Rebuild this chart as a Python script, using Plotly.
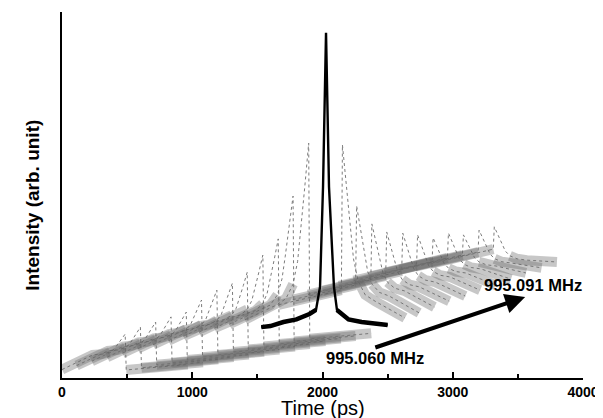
import plotly.graph_objects as go

# traces below resonance (slow rise, sharp fall), times in ps, levels in arb. units
left_peak_ps = [485, 602, 719, 837, 954, 1071, 1189, 1308, 1422, 1542, 1660, 1774, 1894]
left_start_ps = [0, 112, 229, 347, 464, 581, 699, 818, 932, 1052, 1170, 1284, 1404]
left_end_ps = [965, 1082, 1199, 1317, 1434, 1551, 1669, 1788, 1902, 2022, 2140, 2254, 2374]
left_start_lvl = [2.3, 3.4, 4.6, 5.7, 6.8, 8.0, 9.1, 10.2, 11.4, 12.5, 13.6, 14.7, 15.9]
left_base_lvl = [6.3, 7.4, 8.6, 9.7, 10.8, 12.0, 13.1, 14.2, 15.4, 16.5, 17.6, 18.7, 19.9]
left_top_lvl = [12.0, 13.9, 15.3, 16.7, 18.0, 21.3, 24.0, 25.9, 28.9, 33.6, 38.0, 49.7, 64.2]
left_post_lvl = [2.2, 2.8, 3.6, 4.2, 4.9, 5.7, 6.3, 7.1, 7.8, 8.6, 9.3, 10.0, 10.7]
left_end_lvl = [3.7, 4.3, 5.1, 5.7, 6.4, 7.2, 7.8, 8.6, 9.3, 10.1, 10.8, 11.5, 12.2]

# traces above resonance (sharp rise, slow decay)
right_peak_ps = [2153, 2262, 2379, 2493, 2616, 2730, 2849, 2967, 3082, 3202, 3319]
right_start_ps = [1663, 1772, 1889, 2003, 2126, 2240, 2359, 2477, 2592, 2712, 2829]
right_end_ps = [2633, 2742, 2859, 2973, 3096, 3210, 3329, 3447, 3562, 3682, 3800]
right_start_lvl = [20.0, 21.4, 22.8, 23.9, 25.2, 26.6, 27.7, 28.8, 29.6, 30.4, 31.2]
right_base_lvl = [24.0, 25.4, 26.8, 27.9, 29.2, 30.6, 31.7, 32.8, 33.6, 34.4, 35.2]
right_top_lvl = [63.7, 47.0, 42.1, 39.9, 39.6, 39.1, 38.3, 39.6, 39.1, 40.4, 41.3]
right_post_lvl = [21.0, 22.4, 23.8, 24.9, 26.2, 27.6, 28.7, 29.8, 30.6, 31.4, 32.2]
right_end_lvl = [16.4, 17.8, 19.4, 21.0, 22.4, 24.0, 25.4, 27.0, 28.7, 30.1, 31.7]

tail_dt = [0, 30, 60, 85, 120, 175, 250]
tail_frac = [1.0, 0.73, 0.47, 0.27, 0.13, 0.04, 0.0]

# resonant trace (black)
black_ps = [1530, 1600, 1700, 1800, 1900, 1950, 1981, 2004, 2027, 2050, 2088, 2111, 2200, 2300, 2400, 2500]
black_lvl = [13.9, 14.2, 15.3, 16.0, 17.5, 18.6, 24.9, 52.2, 94.3, 52.2, 24.9, 18.6, 16.0, 15.3, 14.8, 14.5]

freq_low = "995.060 MHz"
freq_high = "995.091 MHz"

band_color = "rgba(100,100,100,0.36)"
line_color = "rgba(110,110,110,0.9)"
FONT = "Liberation Sans, Arial, sans-serif"

fig = go.Figure()


def add_gray(xs, ys, bx, by):
    # noisy baseline as a wide band, full trace as a thin dotted line on top
    fig.add_trace(go.Scatter(x=bx, y=by, mode="lines", connectgaps=False,
                             line=dict(color=band_color, width=10), hoverinfo="skip"))
    fig.add_trace(go.Scatter(x=xs, y=ys, mode="lines",
                             line=dict(color=line_color, width=1, dash="dot"), hoverinfo="skip"))


for i in range(len(left_peak_ps)):
    p = left_peak_ps[i]
    base, top, post = left_base_lvl[i], left_top_lvl[i], left_post_lvl[i]
    rise_x = [p - d for d in reversed(tail_dt)]
    rise_y = [base + (top - base) * f for f in reversed(tail_frac)]
    xs = [left_start_ps[i]] + rise_x + [p + 8, left_end_ps[i]]
    ys = [left_start_lvl[i]] + rise_y + [post, left_end_lvl[i]]
    bx = [left_start_ps[i]] + rise_x[:3] + [None, p + 8, left_end_ps[i]]
    by = [left_start_lvl[i]] + rise_y[:3] + [None, post, left_end_lvl[i]]
    add_gray(xs, ys, bx, by)

for i in range(len(right_peak_ps)):
    p = right_peak_ps[i]
    base, top, post = right_base_lvl[i], right_top_lvl[i], right_post_lvl[i]
    dec_x = [p + d for d in tail_dt]
    dec_y = [post + (top - post) * f for f in tail_frac]
    xs = [right_start_ps[i], p - 8] + dec_x + [right_end_ps[i]]
    ys = [right_start_lvl[i], base] + dec_y + [right_end_lvl[i]]
    bx = [right_start_ps[i], p - 8, None] + dec_x[4:] + [right_end_ps[i]]
    by = [right_start_lvl[i], base, None] + dec_y[4:] + [right_end_lvl[i]]
    add_gray(xs, ys, bx, by)

fig.add_trace(go.Scatter(x=black_ps[:6], y=black_lvl[:6], mode="lines",
                         line=dict(color="black", width=4.5), hoverinfo="skip"))
fig.add_trace(go.Scatter(x=black_ps[11:], y=black_lvl[11:], mode="lines",
                         line=dict(color="black", width=4.5), hoverinfo="skip"))
fig.add_trace(go.Scatter(x=black_ps, y=black_lvl, mode="lines",
                         line=dict(color="black", width=2.4), hoverinfo="skip"))

bold = dict(family=FONT, size=14, color="black", weight="bold")
label_font = dict(family=FONT, size=16.5, color="black", weight="bold")

fig.add_annotation(x=3556, y=22.1, ax=2394, ay=8.2, xref="x", yref="y", axref="x", ayref="y",
                   text="", showarrow=True, arrowhead=2, arrowsize=1.0, arrowwidth=4,
                   arrowcolor="black")
fig.add_annotation(x=2401, y=5.5, xref="x", yref="y", text=freq_low, showarrow=False, font=label_font)
fig.add_annotation(x=3618, y=25.4, xref="x", yref="y", text=freq_high, showarrow=False, font=label_font)

fig.add_annotation(x=2000, y=-0.082, xref="x", yref="paper", text="Time (ps)", showarrow=False,
                   yanchor="middle", font=dict(family=FONT, size=20, color="black"))
fig.add_annotation(x=-0.08, y=0.473, xref="paper", yref="paper", text="Intensity (arb. unit)",
                   textangle=-90, showarrow=False,
                   font=dict(family=FONT, size=19, color="black", weight="bold"))

# page body has an 8 px default margin, so the figure is sized to fit inside the window
fig.update_layout(
    width=595, height=410,
    margin=dict(l=54, r=18, t=4, b=40),
    paper_bgcolor="white", plot_bgcolor="white",
    showlegend=False,
)
fig.update_xaxes(range=[0, 4000], tickvals=[0, 1000, 2000, 3000, 4000],
                 ticks="inside", ticklen=6, tickwidth=1.5, tickcolor="black",
                 minor=dict(tickvals=[500, 1500, 2500, 3500], ticks="inside", ticklen=4,
                            tickcolor="black", tickwidth=1.5),
                 showline=True, linecolor="black", linewidth=1.5, showgrid=False,
                 zeroline=False, tickfont=bold)
fig.update_yaxes(range=[0, 100], showticklabels=False, ticks="", showline=True,
                 linecolor="black", linewidth=1.5, showgrid=False, zeroline=False)

fig.write_html("out.html")
